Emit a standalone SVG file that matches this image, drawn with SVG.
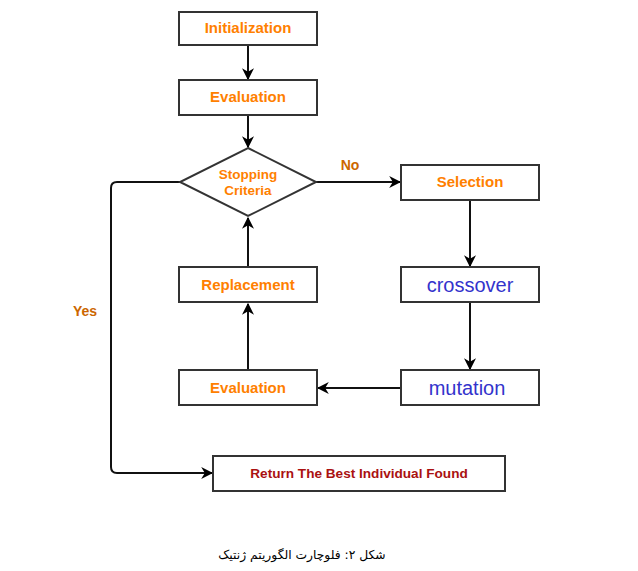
<svg xmlns="http://www.w3.org/2000/svg" width="638" height="571" viewBox="0 0 638 571">
<defs>
<marker id="ah" viewBox="0 0 10 10" refX="9" refY="5" markerWidth="12" markerHeight="12" markerUnits="userSpaceOnUse" orient="auto">
<path d="M0,0 L10,5 L0,10 L3,5 Z" fill="#000"/>
</marker>
<style>
.box{fill:#fff;stroke:#333;stroke-width:2}
.lbl{font-family:"Liberation Sans",Arial,sans-serif;font-weight:bold;font-size:15px;fill:#FF8000;text-anchor:middle}
.blue{font-family:"Liberation Sans",Arial,sans-serif;font-size:20px;fill:#3333CC;text-anchor:middle}
.edge{fill:none;stroke:#111;stroke-width:2;marker-end:url(#ah)}
.elbl{font-family:"Liberation Sans",Arial,sans-serif;font-weight:bold;font-size:14px;fill:#CC6600;text-anchor:middle}
</style>
</defs>
<rect width="638" height="571" fill="#fff"/>
<g id="connectors">
<path class="edge" d="M248,45 V79"/>
<path class="edge" d="M248,115 V147"/>
<path class="edge" d="M316,182 H400"/>
<path class="edge" d="M470,200 V266"/>
<path class="edge" d="M470,302 V369"/>
<path class="edge" d="M401,388 H318"/>
<path class="edge" d="M248,370 V304"/>
<path class="edge" d="M248,267 V218"/>
<path class="edge" d="M180,182 H117 Q111,182 111,188 V467 Q111,473 117,473 H212"/>
<text class="elbl" x="350" y="170">No</text>
<text class="elbl" x="85" y="316">Yes</text>
</g>
<g id="init"><rect class="box" x="179" y="12" width="138" height="33"/><text class="lbl" x="248" y="33">Initialization</text></g>
<g id="eval1"><rect class="box" x="179" y="80" width="138" height="35"/><text class="lbl" x="248" y="102">Evaluation</text></g>
<g id="stop"><polygon class="box" points="248,148 316,182 248,216 180,182"/><text class="lbl" style="font-size:13.5px" x="248" y="179">Stopping</text><text class="lbl" style="font-size:13.5px" x="248" y="195">Criteria</text></g>
<g id="selection"><rect class="box" x="401" y="165" width="138" height="35"/><text class="lbl" x="470" y="187">Selection</text></g>
<g id="crossover"><rect class="box" x="401" y="267" width="138" height="35"/><text class="blue" x="470" y="292">crossover</text></g>
<g id="mutation"><rect class="box" x="401" y="370" width="138" height="35"/><text class="blue" x="467" y="395">mutation</text></g>
<g id="replacement"><rect class="box" x="179" y="267" width="138" height="35"/><text class="lbl" x="248" y="290">Replacement</text></g>
<g id="eval2"><rect class="box" x="179" y="370" width="138" height="35"/><text class="lbl" x="248" y="393">Evaluation</text></g>
<g id="return"><rect class="box" x="213" y="456" width="292" height="35"/><text class="lbl" style="fill:#AA1111;font-size:13.6px" x="359" y="478">Return The Best Individual Found</text></g>
<text x="302" y="559" direction="rtl" text-anchor="middle" font-family="'DejaVu Sans','Noto Sans',sans-serif" font-size="12.3" fill="#000">شکل ۲: فلوچارت الگوریتم ژنتیک</text>
</svg>
